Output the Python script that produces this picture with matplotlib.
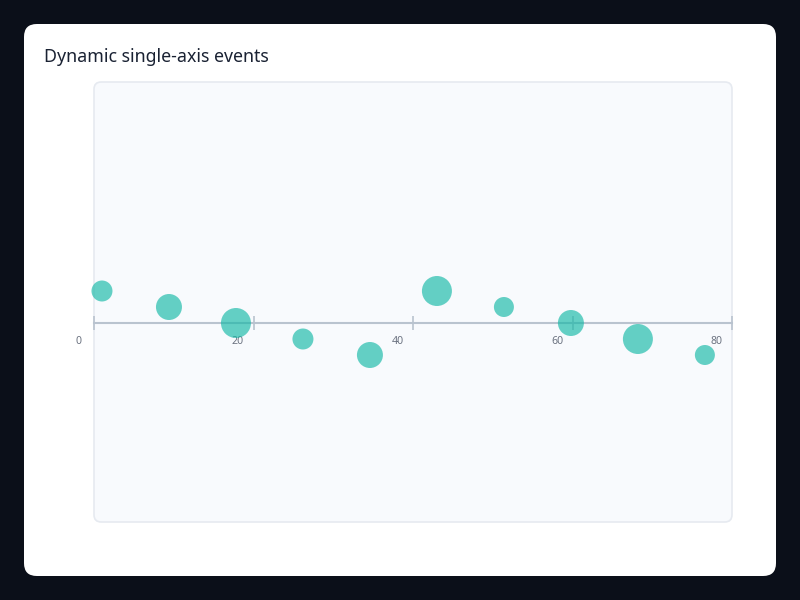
import matplotlib.pyplot as plt
import matplotlib.transforms as mtransforms
from matplotlib.patches import FancyBboxPatch

# event data
event_x = [1.0, 9.4, 17.8, 26.2, 34.6, 43.0, 51.4, 59.8, 68.2, 76.6]
event_lane = [2, 1, 0, -1, -2, 2, 1, 0, -1, -2]
event_size = [21, 26, 30, 21, 26, 30, 20, 26, 30, 20]
tick_values = [0, 20, 40, 60, 80]
tick_labels = ['0', '20', '40', '60', '80']
title = 'Dynamic single-axis events'

W, H = 800, 600
fig = plt.figure(figsize=(8, 6), dpi=100, facecolor='#0b0f19')

# white card
card = FancyBboxPatch((24 / W, 24 / H), 752 / W, 552 / H,
                      boxstyle='round,pad=0,rounding_size=0.016',
                      transform=fig.transFigure, facecolor='white',
                      edgecolor='none', mutation_aspect=W / H, zorder=-3)
fig.patches.append(card)

# plot background
x0, y0, x1, y1 = 94, 82, 732, 522
bg = FancyBboxPatch((x0 / W, 1 - y1 / H), (x1 - x0) / W, (y1 - y0) / H,
                    boxstyle='round,pad=0,rounding_size=0.009',
                    transform=fig.transFigure, facecolor='#f8fafd',
                    edgecolor='#e6eaf0', linewidth=1.2, mutation_aspect=W / H,
                    zorder=-2)
fig.patches.append(bg)

fig.text(44 / W, 1 - 61.5 / H, title, fontsize=12.8, family='Noto Sans',
         color='#1a2233', ha='left', va='baseline')

ax = fig.add_axes([x0 / W, 1 - y1 / H, (x1 - x0) / W, (y1 - y0) / H])
ax.set_facecolor('none')
lane_px = 16
ax.set_xlim(0, 80)
ax.set_ylim(-(y1 - 323) / lane_px, (323 - y0) / lane_px)

for s in ['top', 'left', 'right']:
    ax.spines[s].set_visible(False)
ax.spines['bottom'].set_position(('data', 0))
ax.spines['bottom'].set_color('#b9c3cf')
ax.spines['bottom'].set_linewidth(1.5)
ax.set_yticks([])
ax.set_xticks(tick_values)
ax.set_xticklabels([])
ax.tick_params(axis='x', direction='inout', length=10, width=1.2, color='#b9c3cf')

off = mtransforms.offset_copy(ax.transData, fig=fig, x=-15.5, y=-18, units='dots')
for v, lab in zip(tick_values, tick_labels):
    ax.text(v, 0, lab, transform=off, ha='center', va='center',
            fontsize=7.6, family='Noto Sans', color='#6b7280')

sizes_pt = [(d * 0.72) ** 2 for d in event_size]
ax.scatter(event_x, event_lane, s=sizes_pt, color='#14b8a6', alpha=0.65,
           edgecolors='none', zorder=3, clip_on=False)

fig.savefig('out.png', dpi=100, facecolor=fig.get_facecolor())
